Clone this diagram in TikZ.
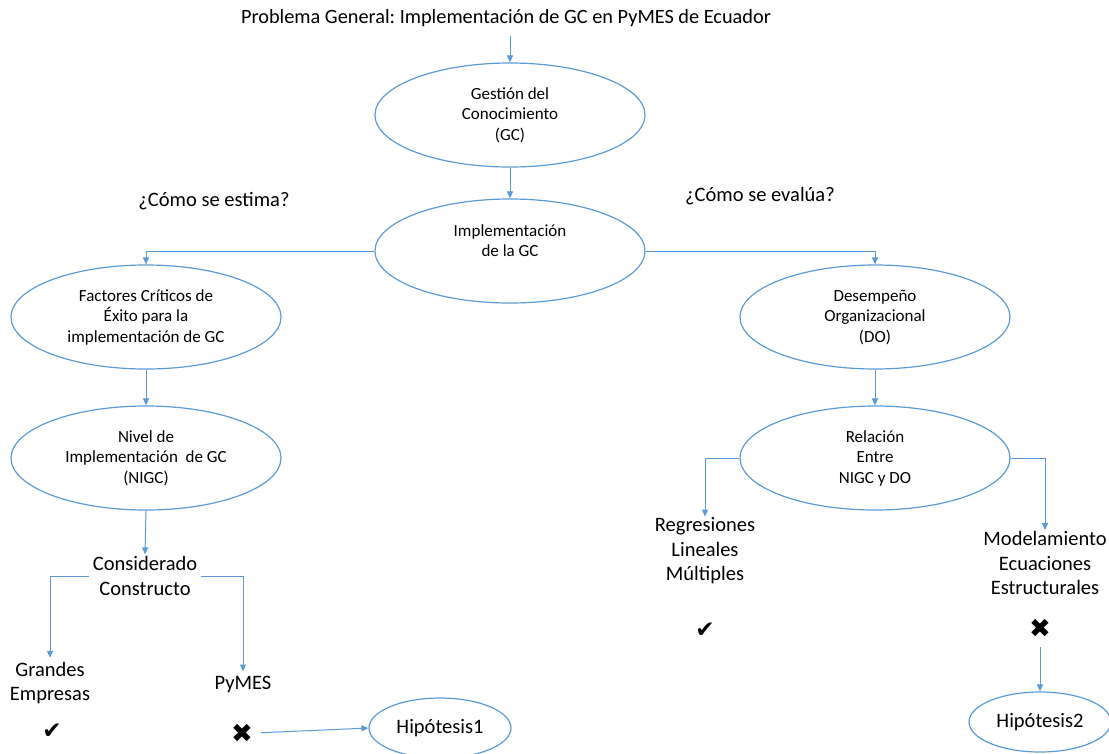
\documentclass[tikz,border=0pt]{standalone}
\usepackage{fontspec}
\setmainfont{Carlito}
\newfontfamily\symfont{DejaVu Sans}
\usetikzlibrary{positioning,shapes.geometric,arrows.meta}
\frenchspacing

\definecolor{ofblue}{RGB}{91,155,213}

\begin{document}
\begin{tikzpicture}[
        x=1pt, y=-1pt,
        elip/.style={
                ellipse,
                draw=ofblue,
                line width=1.2pt,
                minimum width=270pt,
                minimum height=104pt,
                inner sep=0pt,
                align=center,
                font=\fontsize{17}{20.5}\selectfont
            },
        hipo/.style={
                ellipse,
                draw=ofblue,
                line width=1.2pt,
                minimum width=142pt,
                minimum height=60pt,
                inner sep=0pt,
                font=\fontsize{20.5}{24}\selectfont
            },
        lbl/.style = {align=center, inner sep=4pt, font=\fontsize{20.5}{24.5}\selectfont},
        question/.style = {font=\fontsize{20.5}{24}\selectfont},
        tick/.style = {inner sep=2pt, font=\symfont\bfseries\fontsize{23}{23}\selectfont},
        cross/.style = {inner sep=2pt, font=\symfont\fontsize{26}{26}\selectfont},
        link/.style = {draw=ofblue, line width=1pt},
        >={Triangle[length=7pt,width=6pt]}
    ]
    \useasboundingbox (0,0) rectangle (1109,753);

    \node[font=\fontsize{20.3}{24}\selectfont] (title) at (506,18) {Problema General: Implementación de GC en PyMES de Ecuador};
    \node[elip] (gc) at (510,115) {Gestión del\\Conocimiento\\(GC)};
    \node[elip] (impl) at (510,251) {Implementación\\de la GC\\\mbox{}};
    \node[question] (estima) at (214,201) {¿Cómo se estima?};
    \node[question] (evalua) at (760,196) {¿Cómo se evalúa?};

    \node[elip] (fce) at (146,317) {Factores Críticos de\\Éxito para la\\implementación de GC};
    \node[elip] (nigc) at (146,458) {Nivel de\\Implementación~ de GC\\(NIGC)};
    \node[elip] (do) at (875,317) {Desempeño\\Organizacional\\(DO)};
    \node[elip] (rel) at (875,458) {Relación\\Entre\\NIGC y DO};

    \node[lbl] (cons) at (145,576) {Considerado\\Constructo};
    \node[lbl] (ge) at (50,683) {Grandes\\Empresas};
    \node[lbl] (pymes) at (243,684) {PyMES};
    \node[tick] (okge) at (52,731) {✔};
    \node[cross] (nopy) at (242,733) {✖};
    \node[hipo] (hip1) at (440,728) {Hipótesis1};

    \node[lbl] (rlm) at (705,551) {Regresiones\\Lineales\\Múltiples};
    \node[lbl] (mee) at (1045,563) {Modelamiento\\Ecuaciones\\Estructurales};
    \node[tick] (okrlm) at (705,630) {✔};
    \node[cross] (nomee) at (1040,628) {✖};
    \node[hipo] (hip2) at (1040,722) {Hipótesis2};

    \draw[link,->,shorten <=6pt] (title.south -| gc.north) -- (gc.north);
    \draw[link,->] (gc.south) -- (impl.north);
    \draw[link,->] (impl.west) -| (fce.north);
    \draw[link,->] (impl.east) -| (do.north);
    \draw[link,->] (fce.south) -- (nigc.north);
    \draw[link,->] (do.south) -- (rel.north);
    \draw[link,->] (rel.west) -| ([yshift=-3pt]rlm.north);
    \draw[link,->] (rel.east) -| ([yshift=-3pt]mee.north);
    \draw[link,->] (nigc.south) -- ([yshift=-2pt]cons.north);
    \draw[link,->] (cons.west) -| (ge.north);
    \draw[link,->] (cons.east) -| (pymes.north);
    \draw[link,->,shorten <=6pt] (nopy.east) -- (hip1.west);
    \draw[link,->,shorten <=8pt] (nomee.south) -- (hip2.north);
\end{tikzpicture}
\end{document}
